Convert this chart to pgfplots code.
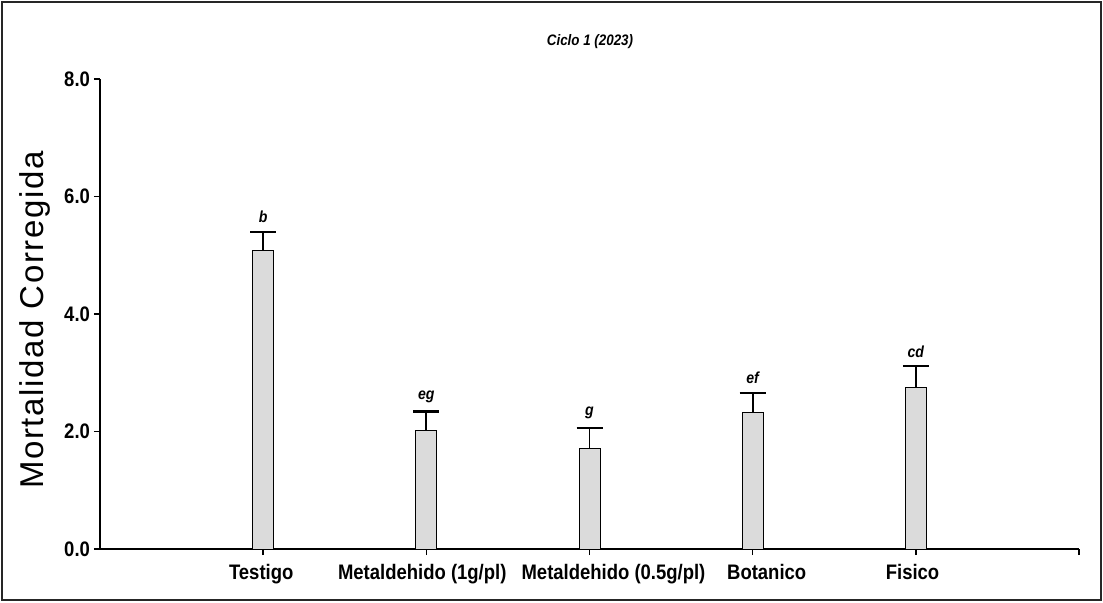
\documentclass[border=0pt]{standalone}
\usepackage{pgfplots}
\pgfplotsset{compat=1.18}
\usepackage{fontspec}
\setmainfont{Liberation Sans}
\newfontfamily\cond[FakeStretch=0.88]{Liberation Sans}
\newfontfamily\spaced[LetterSpace=5]{Liberation Sans}
\begin{document}
\begin{tikzpicture}
\useasboundingbox (-50pt,-26.5pt) rectangle (501.5pt,274.5pt);
\draw[line width=1pt, black!85] (-49pt,-25.5pt) rectangle (500.5pt,273.5pt);
\begin{axis}[
  scale only axis,
  width=489.5pt, height=235pt,
  xmin=0, xmax=6, ymin=0, ymax=8,
  axis x line=bottom, axis y line=left,
  axis line style={-, line width=1.1pt},
  xtick={1,2,3,4,5,6},
  xticklabels={},
  extra x ticks={0.988,1.975,3.147,4.086,4.98},
  extra x tick labels={Testigo,Metaldehido (1g/pl),Metaldehido (0.5g/pl),Botanico,Fisico},
  extra x tick style={major tick length=0pt, xticklabel style={yshift=-4pt}},
  ytick={0,2,4,6,8},
  tick style={line width=0.8pt, black},
  major tick length=3pt,
  tick align=outside,
  /pgf/number format/assume math mode=true,
  /pgf/number format/.cd, fixed, fixed zerofill, precision=1, /pgfplots/.cd,
  tick label style={font=\cond\bfseries\fontsize{10.5}{12}\selectfont},
  yticklabel style={xshift=1.5pt},
  clip=false,
]
\addplot[ybar, bar width=10.5pt, fill=black!14, draw=black, line width=0.5pt,
  error bars/.cd, y dir=plus, y explicit,
  error bar style={line width=0.9pt, black},
  error mark options={rotate=90, mark size=6.5pt, line width=1.2pt}]
  table[x=x, y=y, y error=e] {
x y e
1 5.08 0.32
2 2.02 0.32
3 1.71 0.35
4 2.32 0.34
5 2.75 0.36
};
\addplot[only marks, mark=none, nodes near coords, point meta=explicit symbolic,
  nodes near coords style={anchor=south, yshift=1pt, font=\cond\bfseries\itshape\fontsize{8}{9}\selectfont}]
  table[x=x, y=y, meta=l] {
x y l
1 5.40 b
2 2.34 eg
3 2.06 g
4 2.66 ef
5 3.11 cd
};
\end{axis}
\node[rotate=90, font=\spaced\fontsize{16.5}{18}\selectfont] at (-32.5pt,114.5pt) {Mortalidad Corregida};
\node[font=\cond\bfseries\itshape\fontsize{7.6}{8}\selectfont] at (245pt,253.5pt) {Ciclo 1 (2023)};
\end{tikzpicture}
\end{document}
